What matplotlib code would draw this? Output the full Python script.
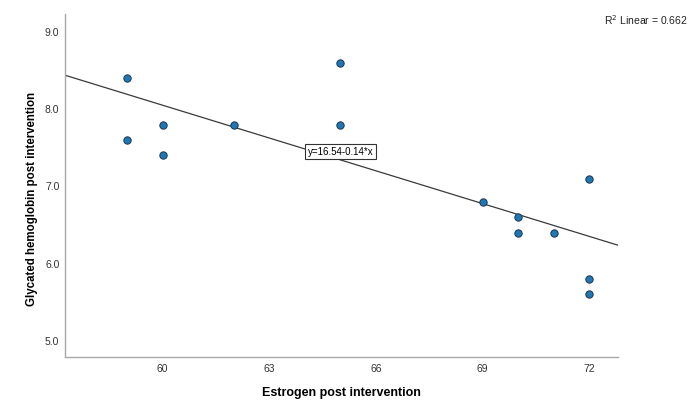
import numpy as np
import matplotlib.pyplot as plt

plt.rcParams['font.family'] = ['Liberation Sans', 'DejaVu Sans']

# Estrogen vs glycated hemoglobin, post intervention
estrogen = [59, 59, 60, 60, 62, 65, 65, 69, 70, 70, 71, 72, 72, 72]
hba1c = [8.4, 7.6, 7.8, 7.4, 7.8, 8.6, 7.8, 6.8, 6.6, 6.4, 6.4, 7.1, 5.8, 5.6]
x_ticks = [60, 63, 66, 69, 72]
y_ticks = [5.0, 6.0, 7.0, 8.0, 9.0]

# fit line as reported
intercept = 16.54
slope = -0.1415
r2 = 0.662

fig = plt.figure(figsize=(6.91, 4.03), dpi=100)
ax = fig.add_axes([0.094, 0.114, 0.800, 0.851])

xmin, xmax = 57.25, 72.8
ax.set_xlim(xmin, xmax)
ax.set_ylim(4.79, 9.23)

xs = np.array([xmin, xmax])
ax.plot(xs, intercept + slope * xs, color='#3a3a3a', lw=0.9, zorder=2)

ax.scatter(estrogen, hba1c, s=28, color='#1f78b4', edgecolor='#1a3550',
           linewidth=0.7, zorder=3)

ax.set_xticks(x_ticks)
ax.set_yticks(y_ticks)
ax.set_yticklabels([f'{v:.1f}' for v in y_ticks])
ax.tick_params(length=0, labelsize=7.5, labelcolor='#333333')
ax.tick_params(axis='x', pad=5)
ax.tick_params(axis='y', pad=4)

for side in ['top', 'right']:
    ax.spines[side].set_visible(False)
for side in ['left', 'bottom']:
    ax.spines[side].set_color('#a8a8a8')
    ax.spines[side].set_linewidth(1.0)

ax.set_xlabel('Estrogen post intervention', fontsize=9, fontweight='bold',
              labelpad=9)
ax.set_ylabel('Glycated hemoglobin post intervention', fontsize=8.3,
              fontweight='bold')
ax.yaxis.set_label_coords(-0.049, 0.46)

ax.text(65.0, 7.45, 'y=16.54-0.14*x', fontsize=7, ha='center', va='center',
        bbox=dict(boxstyle='square,pad=0.25', fc='white', ec='#333333', lw=0.8),
        zorder=4)

fig.text(0.995, 0.95, r'R$^2$ Linear = ' + f'{r2:.3f}', fontsize=7.5,
         ha='right', va='center', color='#222222')

fig.savefig('out.png', dpi=100)
